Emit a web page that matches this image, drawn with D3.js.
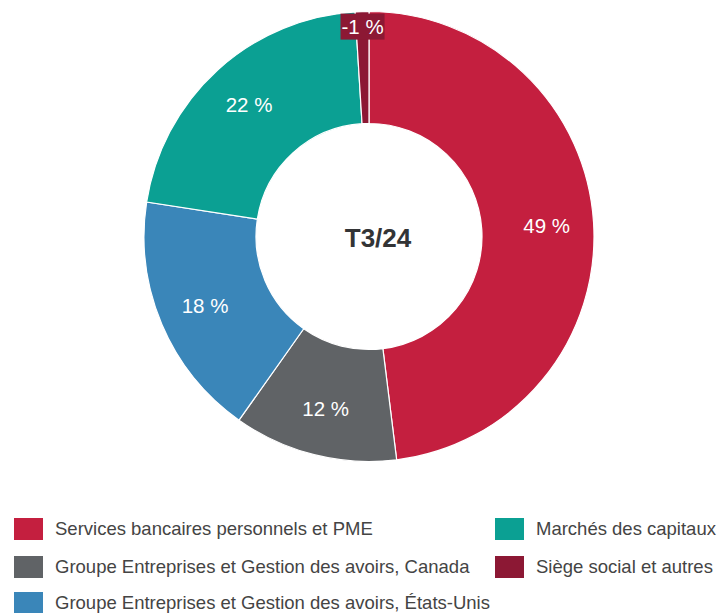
<!DOCTYPE html>
<html>
<head>
<meta charset="utf-8">
<script src="https://cdn.jsdelivr.net/npm/d3@7/dist/d3.min.js"></script>
<style>
  html, body { margin: 0; padding: 0; background: #fff; }
  svg { display: block; font-family: "Liberation Sans", Arial, sans-serif; }
</style>
</head>
<body>
<svg id="chart" width="717" height="613"></svg>
<script>
// Répartition par secteur d'activité, T3/24
const segments = [
  "Services bancaires personnels et PME",
  "Groupe Entreprises et Gestion des avoirs, Canada",
  "Groupe Entreprises et Gestion des avoirs, États-Unis",
  "Marchés des capitaux",
  "Siège social et autres"
];
const shares = [49, 12, 18, 22, -1];
const colours = ["#C41F3F", "#606366", "#3A86B9", "#0BA093", "#8C1834"];
const centreLabel = "T3/24";

const svg = d3.select("#chart");
const cx = 369, cy = 236.5;
const outerR = 225, innerR = 113;

const data = segments.map((name, i) => ({ name, value: shares[i], colour: colours[i] }));

// slice size uses the magnitude so the negative segment still shows as a sliver
const pie = d3.pie().sort(null).value(d => Math.abs(d.value));
const arcs = pie(data);

const arc = d3.arc().innerRadius(innerR).outerRadius(outerR);
const labelArc = d3.arc().innerRadius(178).outerRadius(178);
const smallLabelArc = d3.arc().innerRadius(210).outerRadius(210);

const g = svg.append("g").attr("transform", `translate(${cx},${cy})`);

g.selectAll("path.slice")
  .data(arcs)
  .join("path")
  .attr("class", "slice")
  .attr("d", arc)
  .attr("fill", d => d.data.colour)
  .attr("stroke", "#fff")
  .attr("stroke-width", 1.2);

const fmt = v => `${v} %`;
const isSmall = d => (d.endAngle - d.startAngle) < 0.1;

const labels = g.selectAll("g.lbl")
  .data(arcs)
  .join("g")
  .attr("class", "lbl")
  .attr("transform", d => {
    const [x, y] = (isSmall(d) ? smallLabelArc : labelArc).centroid(d);
    return `translate(${x},${y})`;
  });

// narrow slices get a boxed label so the text stays legible
labels.filter(isSmall)
  .append("rect")
  .attr("x", -22).attr("y", -13)
  .attr("width", 44).attr("height", 26)
  .attr("fill", d => d.data.colour);

labels.append("text")
  .attr("text-anchor", "middle")
  .attr("dy", "0.35em")
  .attr("fill", "#fff")
  .attr("font-size", 20.5)
  .text(d => fmt(d.data.value));

g.append("text")
  .attr("x", 9)
  .attr("y", 1)
  .attr("text-anchor", "middle")
  .attr("dy", "0.35em")
  .attr("fill", "#333436")
  .attr("font-size", 26)
  .attr("font-weight", "bold")
  .text(centreLabel);

// legend: two columns
const legendPos = [
  { x: 14, y: 529 },
  { x: 14, y: 567 },
  { x: 14, y: 603 },
  { x: 495, y: 529 },
  { x: 495, y: 567 }
];

const legend = svg.append("g")
  .selectAll("g")
  .data(data)
  .join("g")
  .attr("transform", (d, i) => `translate(${legendPos[i].x},${legendPos[i].y})`);

legend.append("rect")
  .attr("x", 0).attr("y", -11)
  .attr("width", 29).attr("height", 22)
  .attr("fill", d => d.colour);

legend.append("text")
  .attr("x", 41)
  .attr("dy", "0.35em")
  .attr("fill", "#444")
  .attr("font-size", 18.5)
  .text(d => d.name);
</script>
</body>
</html>
